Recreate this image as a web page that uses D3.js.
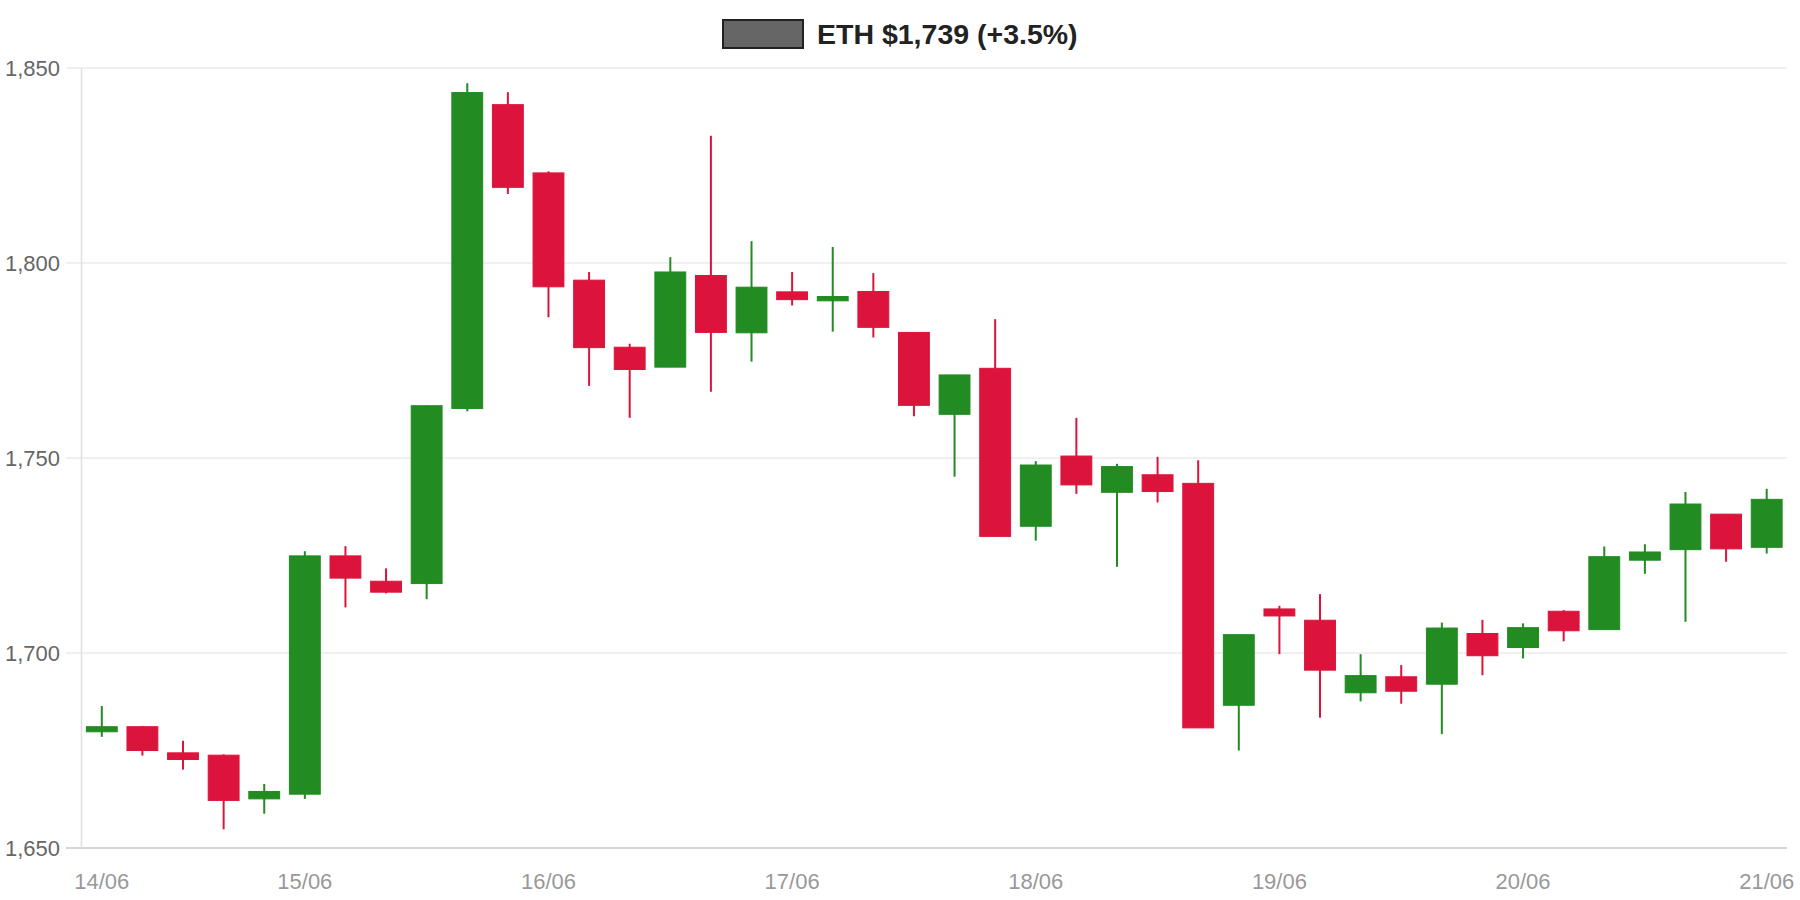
<!DOCTYPE html>
<html lang="en">
<head>
    <meta charset="UTF-8">
    <title>ETH candles</title>
    <script src="https://d3js.org/d3.v7.min.js"></script>
    <style>
        body {
            margin: 0;
            background: #fff;
            font-family: "Liberation Sans", Arial, Helvetica, sans-serif;
        }
        svg {
            display: block;
        }
    </style>
</head>
<body>
    <div id="container"></div>

    <script>
        // 4h candles, 14/06 04:00 -> 21/06 00:00
        const times = [
            '2022-06-14T04:00', '2022-06-14T08:00', '2022-06-14T12:00', '2022-06-14T16:00', '2022-06-14T20:00',
            '2022-06-15T00:00', '2022-06-15T04:00', '2022-06-15T08:00', '2022-06-15T12:00', '2022-06-15T16:00', '2022-06-15T20:00',
            '2022-06-16T00:00', '2022-06-16T04:00', '2022-06-16T08:00', '2022-06-16T12:00', '2022-06-16T16:00', '2022-06-16T20:00',
            '2022-06-17T00:00', '2022-06-17T04:00', '2022-06-17T08:00', '2022-06-17T12:00', '2022-06-17T16:00', '2022-06-17T20:00',
            '2022-06-18T00:00', '2022-06-18T04:00', '2022-06-18T08:00', '2022-06-18T12:00', '2022-06-18T16:00', '2022-06-18T20:00',
            '2022-06-19T00:00', '2022-06-19T04:00', '2022-06-19T08:00', '2022-06-19T12:00', '2022-06-19T16:00', '2022-06-19T20:00',
            '2022-06-20T00:00', '2022-06-20T04:00', '2022-06-20T08:00', '2022-06-20T12:00', '2022-06-20T16:00', '2022-06-20T20:00',
            '2022-06-21T00:00'
        ];

        const opens = [1679.8, 1681.1, 1674.4, 1673.8, 1662.6, 1663.8, 1724.9, 1718.4, 1717.8, 1762.7, 1840.6,
            1823.1, 1795.6, 1778.4, 1773.3, 1796.8, 1782.1, 1792.6, 1790.3, 1792.7, 1782.2, 1761.2, 1773.0,
            1732.5, 1750.5, 1741.2, 1745.7, 1743.5, 1686.6, 1711.3, 1708.4, 1689.8, 1693.9, 1692.0, 1705.0,
            1701.4, 1710.7, 1706.0, 1723.8, 1726.5, 1735.6, 1727.1];
        const highs = [1686.4, 1681.3, 1677.5, 1674.0, 1666.4, 1726.1, 1727.4, 1721.7, 1763.5, 1846.1, 1843.8,
            1823.5, 1797.7, 1779.3, 1801.5, 1832.6, 1805.6, 1797.7, 1804.1, 1797.4, 1782.3, 1771.3, 1785.6,
            1749.2, 1760.3, 1748.5, 1750.3, 1749.4, 1704.7, 1712.1, 1715.1, 1699.7, 1696.9, 1707.8, 1708.5,
            1707.6, 1711.0, 1727.3, 1727.9, 1741.3, 1735.6, 1742.1];
        const lows = [1678.5, 1673.7, 1670.1, 1654.8, 1658.8, 1662.6, 1711.7, 1715.3, 1713.8, 1762.0, 1817.7,
            1786.1, 1768.5, 1760.3, 1773.3, 1767.0, 1774.7, 1789.1, 1782.4, 1780.9, 1760.7, 1745.2, 1729.9,
            1728.8, 1740.8, 1722.1, 1738.6, 1680.8, 1675.0, 1699.7, 1683.4, 1687.6, 1687.0, 1679.2, 1694.3,
            1698.6, 1703.0, 1706.0, 1720.3, 1708.0, 1723.4, 1725.5];
        const closes = [1681.1, 1675.0, 1672.7, 1662.2, 1664.5, 1724.9, 1719.2, 1715.6, 1763.4, 1843.7, 1819.4,
            1793.9, 1778.3, 1772.7, 1797.7, 1782.2, 1793.8, 1790.6, 1791.4, 1783.5, 1763.5, 1771.3, 1729.9,
            1748.2, 1743.1, 1747.8, 1741.4, 1680.8, 1704.7, 1709.5, 1695.6, 1694.2, 1690.2, 1706.4, 1699.3,
            1706.5, 1705.7, 1724.7, 1725.9, 1738.2, 1726.7, 1739.4];

        const yTicks = [1650, 1700, 1750, 1800, 1850];
        const xTickLabels = ['2022-06-14T04:00', '2022-06-15T00:00', '2022-06-16T00:00', '2022-06-17T00:00',
            '2022-06-18T00:00', '2022-06-19T00:00', '2022-06-20T00:00', '2022-06-21T00:00'];
        const legendLabel = 'ETH $1,739 (+3.5%)';

        const width = 1800;
        const height = 900;
        const plotLeft = 81.5, plotRight = 1787, plotTop = 68, plotBottom = 848;

        const upColor = '#228b22';
        const downColor = '#dc143c';

        const parse = d3.utcParse('%Y-%m-%dT%H:%M');
        const data = times.map(function(t, i) {
            return { t: parse(t), o: opens[i], h: highs[i], l: lows[i], c: closes[i] };
        });

        const halfStep = 2 * 3600 * 1000;
        const x = d3.scaleUtc()
            .domain([+data[0].t - halfStep, +data[data.length - 1].t + halfStep])
            .range([plotLeft, plotRight]);

        const y = d3.scaleLinear()
            .domain([1650, 1850])
            .range([plotBottom, plotTop]);

        const step = x(data[1].t) - x(data[0].t);
        const bodyW = step * 0.76;

        const svg = d3.select('#container').append('svg')
            .attr('width', width)
            .attr('height', height);

        // horizontal grid lines
        svg.append('g')
            .selectAll('line')
            .data(yTicks)
            .enter()
            .append('line')
            .attr('x1', 66)
            .attr('x2', plotRight)
            .attr('y1', d => y(d))
            .attr('y2', d => y(d))
            .attr('stroke', d => d === 1650 ? '#d6d6d6' : '#ebebeb')
            .attr('stroke-width', d => d === 1650 ? 2 : 1.5);

        // left axis line
        svg.append('line')
            .attr('x1', plotLeft).attr('x2', plotLeft)
            .attr('y1', plotTop).attr('y2', plotBottom)
            .attr('stroke', '#e0e0e0')
            .attr('stroke-width', 1.5);

        // y labels
        svg.append('g')
            .selectAll('text')
            .data(yTicks)
            .enter()
            .append('text')
            .attr('x', 60)
            .attr('y', d => y(d))
            .attr('dy', '0.35em')
            .attr('text-anchor', 'end')
            .attr('fill', '#666')
            .style('font-size', '22px')
            .text(d => d3.format(',')(d));

        // x labels
        svg.append('g')
            .selectAll('text')
            .data(xTickLabels.map(parse))
            .enter()
            .append('text')
            .attr('x', d => x(d))
            .attr('y', 889)
            .attr('text-anchor', 'middle')
            .attr('fill', '#999')
            .style('font-size', '22px')
            .text(d => d3.utcFormat('%d/%m')(d));

        // candles
        const candles = svg.append('g')
            .selectAll('g')
            .data(data)
            .enter()
            .append('g');

        candles.append('line')
            .attr('x1', d => x(d.t))
            .attr('x2', d => x(d.t))
            .attr('y1', d => y(d.h))
            .attr('y2', d => y(d.l))
            .attr('stroke', d => d.c >= d.o ? upColor : downColor)
            .attr('stroke-width', 2);

        candles.append('rect')
            .attr('x', d => x(d.t) - bodyW / 2)
            .attr('y', d => y(Math.max(d.o, d.c)))
            .attr('width', bodyW)
            .attr('height', d => Math.max(1, Math.abs(y(d.o) - y(d.c))))
            .attr('fill', d => d.c >= d.o ? upColor : downColor)
            .attr('stroke', d => d.c >= d.o ? upColor : downColor)
            .attr('stroke-width', 1);

        // legend / title
        const legend = svg.append('g');
        legend.append('rect')
            .attr('x', 723)
            .attr('y', 20)
            .attr('width', 80)
            .attr('height', 28)
            .attr('fill', '#666')
            .attr('stroke', '#222')
            .attr('stroke-width', 2);
        legend.append('text')
            .attr('x', 817)
            .attr('y', 34)
            .attr('dy', '0.35em')
            .attr('fill', '#222')
            .style('font-size', '28.5px')
            .style('font-weight', 'bold')
            .text(legendLabel);
    </script>
</body>
</html>
